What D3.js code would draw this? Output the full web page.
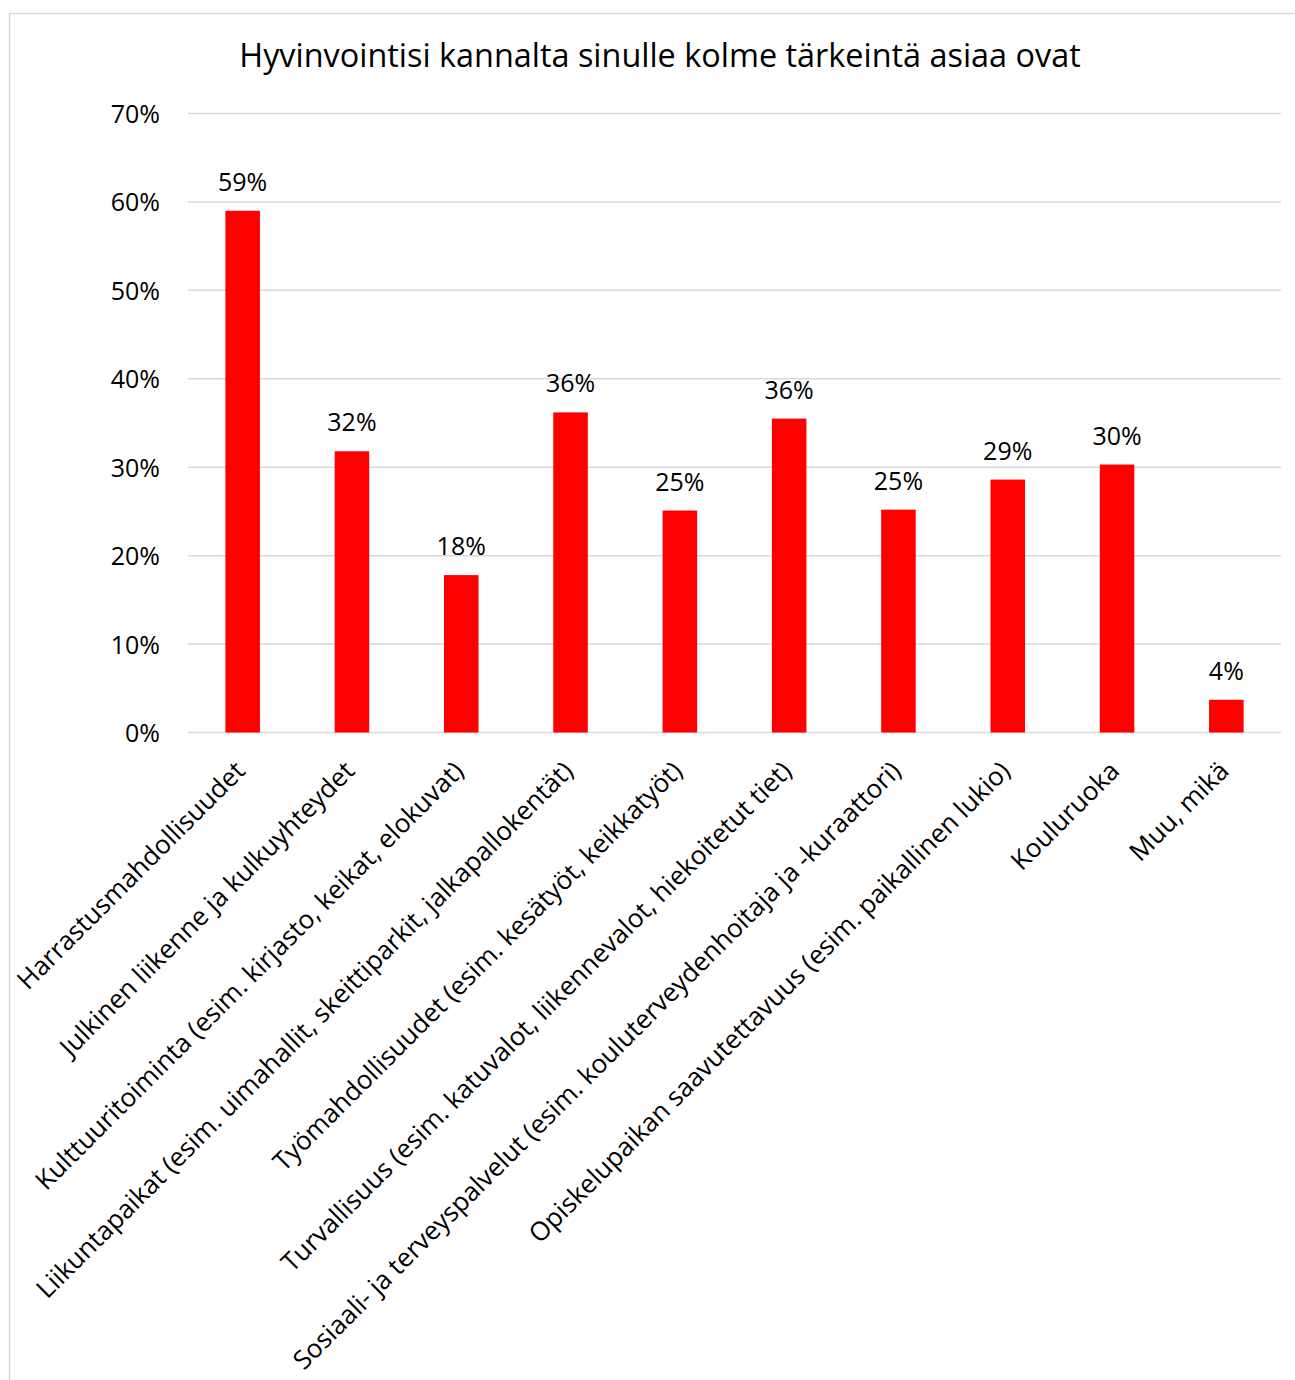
<!DOCTYPE html>
<html><head><meta charset="utf-8">
<script src="https://cdn.jsdelivr.net/npm/d3@7"></script>
<style>
html,body{margin:0;padding:0;background:#fff;}
text{font-family:"Open Sans","Noto Sans",sans-serif;fill:#000;}
</style></head>
<body>
<svg id="chart" width="1295" height="1380"></svg>
<script>
const title = "Hyvinvointisi kannalta sinulle kolme tärkeintä asiaa ovat";
const categories = [
  "Harrastusmahdollisuudet",
  "Julkinen liikenne ja kulkuyhteydet",
  "Kulttuuritoiminta (esim. kirjasto, keikat, elokuvat)",
  "Liikuntapaikat (esim. uimahallit, skeittiparkit, jalkapallokentät)",
  "Työmahdollisuudet (esim. kesätyöt, keikkatyöt)",
  "Turvallisuus (esim. katuvalot, liikennevalot, hiekoitetut tiet)",
  "Sosiaali- ja terveyspalvelut (esim. kouluterveydenhoitaja ja -kuraattori)",
  "Opiskelupaikan saavutettavuus (esim. paikallinen lukio)",
  "Kouluruoka",
  "Muu, mikä"
];
const values = [0.590, 0.318, 0.178, 0.362, 0.251, 0.355, 0.252, 0.286, 0.303, 0.037];
const yTicks = [0, 0.1, 0.2, 0.3, 0.4, 0.5, 0.6, 0.7];

const svg = d3.select("#chart");
// chart border
svg.append("rect").attr("x", 9.5).attr("y", 13.5).attr("width", 1300).attr("height", 1400)
  .attr("fill", "none").attr("stroke", "#d9d9d9").attr("stroke-width", 1.5);

const x = d3.scaleBand().domain(categories).range([188, 1281]).paddingInner(0.684).paddingOuter(0.342);
const y = d3.scaleLinear().domain([0, 0.7]).range([732.5, 113.5]);

// gridlines
svg.append("g").selectAll("line").data(yTicks).join("line")
  .attr("x1", 188).attr("x2", 1281)
  .attr("y1", d => y(d)).attr("y2", d => y(d))
  .attr("stroke", "#d9d9d9").attr("stroke-width", 1.5);

// y axis labels
const yAxis = d3.axisLeft(y).tickValues(yTicks).tickFormat(d3.format(".0%")).tickSize(0).tickPadding(0);
const yg = svg.append("g").attr("transform", "translate(160,0)").call(yAxis);
yg.select(".domain").remove();
yg.selectAll("text").style("font-size", "25px").attr("dy", "0.36em").attr("fill", "#000");

// bars
svg.append("g").selectAll("rect").data(values).join("rect")
  .attr("x", (d, i) => x(categories[i]))
  .attr("width", x.bandwidth())
  .attr("y", d => y(d))
  .attr("height", d => y(0) - y(d))
  .attr("fill", "#ff0000");

// data labels
svg.append("g").selectAll("text").data(values).join("text")
  .attr("x", (d, i) => x(categories[i]) + x.bandwidth() / 2)
  .attr("y", d => y(d) - 20)
  .attr("text-anchor", "middle")
  .style("font-size", "25px")
  .text(d => Math.round(d * 100) + "%");

// x axis labels
const xAxis = d3.axisBottom(x).tickSize(0).tickPadding(0);
const xg = svg.append("g").attr("transform", "translate(0,732.5)").call(xAxis);
xg.select(".domain").remove();
xg.selectAll("text")
  .style("font-size", "26px")
  .attr("fill", "#000")
  .attr("text-anchor", "end")
  .attr("dy", "0")
  .attr("y", 0)
  .attr("x", 0)
  .attr("transform", "translate(4,40) rotate(-45)");

// title
svg.append("text").attr("x", 660).attr("y", 67).attr("text-anchor", "middle")
  .style("font-size", "32.4px").text(title);
</script>
</body></html>
